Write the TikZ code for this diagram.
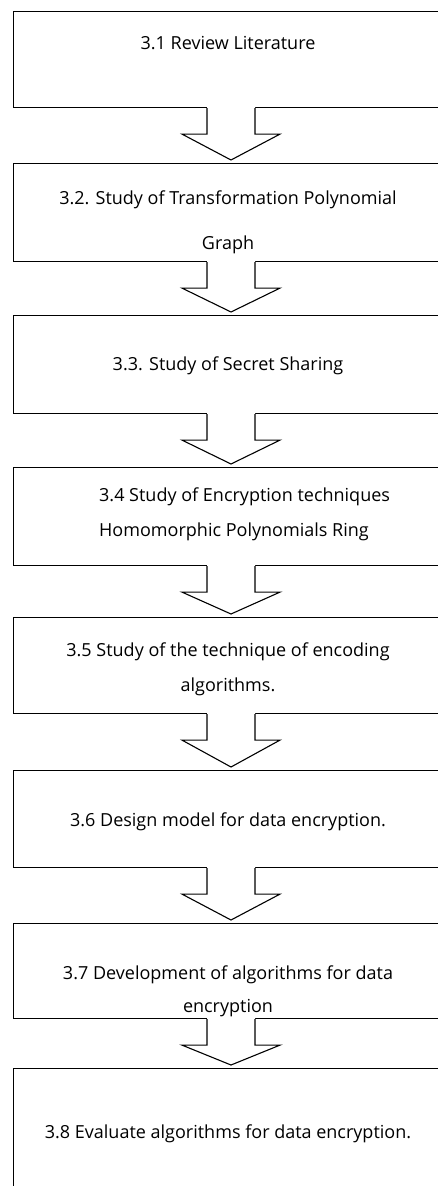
\documentclass[tikz,border=0pt]{standalone}
\usepackage{fontspec}
\setmainfont{Open Sans}
\usepackage{tikz}
\usetikzlibrary{positioning,calc}

\tikzset{
  stage/.style={draw, line width=1.1pt, minimum width=480pt, anchor=north west, inner sep=0pt},
  steptext/.style={font=\fontsize{18}{22}\selectfont, inner sep=0pt, align=center},
  flow/.style={line width=1.1pt}
}
% hollow block arrow from the bottom of one stage into the next
\newcommand{\flowarrow}[2]{%
  \coordinate (from) at ($(#1.south west)+(218,0)$);
  \coordinate (tip) at ($(#2.north west)+(218,-3)$);
  \fill[white] ($(from)+(-24,-2)$) -- ($(from)+(-24,26)$) -- ($(from)+(-49,26)$)
    -- (tip) -- ($(from)+(49,26)$) -- ($(from)+(24,26)$) -- ($(from)+(24,-2)$) -- cycle;
  \draw[flow] ($(from)+(-24,0)$) -- ($(from)+(-24,26)$) -- ($(from)+(-49,26)$)
    -- (tip) -- ($(from)+(49,26)$) -- ($(from)+(24,26)$) -- ($(from)+(24,0)$);
}

\begin{document}
\begin{tikzpicture}[x=1pt, y=-1pt]
\useasboundingbox (0,0) rectangle (438,1186);
\clip (0,0) rectangle (438,1186);
% stage boxes
\foreach \i/\ytop/\hgt in {1/11/96, 2/163/98, 3/315/98, 4/467/98, 5/617/96, 6/770/97, 7/923/95, 8/1068/140}
  \node[stage, minimum height=\hgt pt] (b\i) at (13,\ytop) {};
% arrows between stages
\foreach \i [evaluate=\i as \j using int(\i+1)] in {1,...,7}
  \flowarrow{b\i}{b\j};
% stage texts
\node[steptext] (t1) at (228,43) {3.1 Review Literature};
\node[steptext] (t2) at (228,222) {3.2. Study of Transformation Polynomial\\[23pt]Graph};
\node[steptext] (t3) at (228,366) {3.3. Study of Secret Sharing};
\node[steptext, align=left, anchor=west] (t4) at (99,514) {3.4 Study of Encryption techniques\\[13pt]Homomorphic Polynomials Ring};
\node[steptext] (t5) at (228,669) {3.5 Study of the technique of encoding\\[13pt]algorithms.};
\node[steptext] (t6) at (228,822) {3.6 Design model for data encryption.};
\node[steptext] (t7) at (228,991) {3.7 Development of algorithms for data\\[11pt]encryption};
\node[steptext] (t8) at (228,1134) {3.8 Evaluate algorithms for data encryption.};
\end{tikzpicture}
\end{document}
